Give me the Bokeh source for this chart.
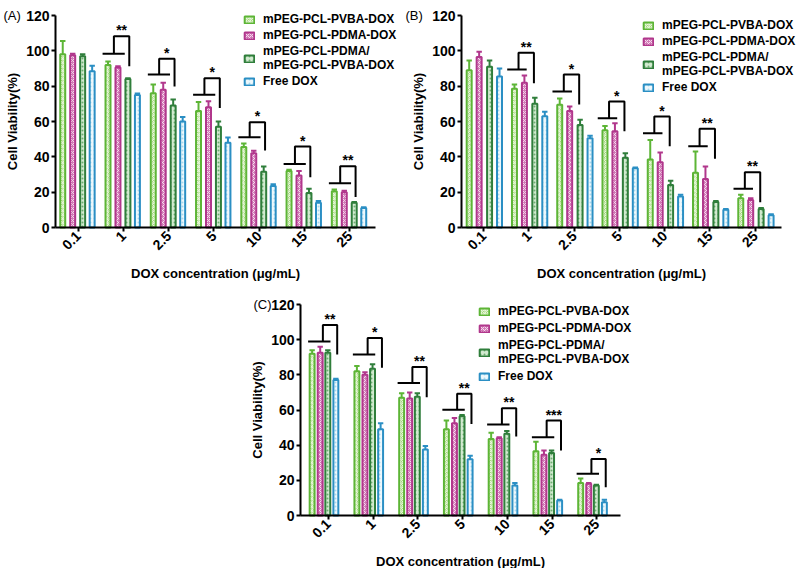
import math
from bokeh.plotting import figure
from bokeh.models import Range1d, FixedTicker, Legend, LegendItem, Label, Spacer
from bokeh.layouts import column, row
from bokeh.embed import file_html
from bokeh.resources import INLINE

categories = ["0.1", "1", "2.5", "5", "10", "15", "25"]
series_names = ["mPEG-PCL-PVBA-DOX", "mPEG-PCL-PDMA-DOX",
                "mPEG-PCL-PDMA/\nmPEG-PCL-PVBA-DOX", "Free DOX"]
y_ticks = [0, 20, 40, 60, 80, 100, 120]
x_title = "DOX concentration (μg/mL)"
y_title = "Cell Viability(%)"

# Panel A
a_pvba = [98, 92, 76, 66, 45.5, 32, 20.5]
a_pvba_err = [7.5, 2, 5, 5, 2, 0.7, 1]
a_pdma = [97.5, 90.5, 78, 68, 42, 29.5, 20]
a_pdma_err = [0.8, 0.8, 4, 3.5, 1.5, 2.5, 0.8]
a_mix = [97, 84, 69, 57, 31.5, 19.5, 14]
a_mix_err = [1, 0.5, 3.5, 3, 3, 2.5, 0.5]
a_free = [88.5, 75, 60, 48, 23.5, 14, 11]
a_free_err = [3, 0.8, 2.5, 3, 1, 1, 0.5]
a_br_cats = ["1", "2.5", "5", "10", "15", "25"]
a_br_base = [98.3, 86.6, 75.1, 51.1, 36, 25.1]
a_br_top = [108.3, 95.5, 84.5, 59.6, 45.8, 34.7]
a_br_end = [91.3, 79.8, 67.7, 43.6, 28.5, 17.2]
a_br_stars = ["**", "*", "*", "*", "*", "**"]

# Panel B
b_pvba = [89, 78.5, 69.5, 55, 38.5, 31, 16.5]
b_pvba_err = [5.5, 2.5, 3.5, 2.5, 11, 12, 2]
b_pdma = [96.5, 82, 66, 54.5, 37, 27.5, 15.5]
b_pdma_err = [3, 4, 2.5, 4.5, 5.5, 7, 1]
b_mix = [91, 70, 58, 39.5, 24, 14.5, 10.5]
b_mix_err = [3.5, 3.5, 3, 2.5, 2.5, 0.5, 0.5]
b_free = [85.5, 63, 50.5, 33.5, 17.5, 10, 7]
b_free_err = [4.5, 2.5, 1.5, 0.5, 1, 0.5, 0.5]
b_br_cats = ["1", "2.5", "5", "10", "15", "25"]
b_br_base = [89.4, 77, 61.9, 53.4, 46, 21.9]
b_br_top = [98.9, 86.6, 71.3, 62.8, 55.9, 31.3]
b_br_end = [81.7, 69.6, 54.5, 46, 38.9, 14.3]
b_br_stars = ["**", "*", "*", "*", "**", "**"]

# Panel C
c_pvba = [92, 82, 67, 49, 43.5, 36.5, 18.5]
c_pvba_err = [2, 3, 2.5, 5, 3.5, 5.5, 2.5]
c_pdma = [92.5, 80, 66.5, 52.5, 44, 34.5, 18]
c_pdma_err = [3.5, 1.5, 3.5, 3, 0.5, 2.5, 0.5]
c_mix = [92.5, 83.5, 67.5, 56.5, 46.5, 35.5, 17]
c_mix_err = [1.5, 2.5, 2, 0.7, 1.5, 1.5, 0.5]
c_free = [77, 49, 37.5, 32, 17, 8.5, 7.5]
c_free_err = [0.8, 3.5, 2, 2, 1.5, 0.5, 1.5]
c_br_cats = ["0.1", "1", "2.5", "5", "10", "15", "25"]
c_br_base = [99, 91.6, 75.3, 60.1, 51.8, 44.5, 23.7]
c_br_top = [108.4, 100.9, 84.4, 69.2, 61, 54, 32.2]
c_br_end = [91.6, 84, 67.3, 52.1, 44.9, 37, 16.1]
c_br_stars = ["**", "*", "**", "**", "**", "***", "*"]

FONT = "Liberation Sans"
styles = [
    dict(fill_color="#a6d77f", line_color="#5db536", hatch_pattern="criss_cross",
         hatch_color="#e8f6dc", hatch_scale=4, hatch_weight=1),
    dict(fill_color="#d27bb7", line_color="#b1378c", hatch_pattern="diagonal_cross",
         hatch_color="#f6dcee", hatch_scale=4, hatch_weight=1),
    dict(fill_color="#d2ead0", line_color="#2f7e3b", hatch_pattern="dot",
         hatch_color="#6fae72", hatch_scale=4, hatch_weight=1),
    dict(fill_color="#eef8fc", line_color="#2b8fc4", hatch_pattern="dot",
         hatch_color="#a9d9ef", hatch_scale=4, hatch_weight=1),
]


def make_panel(letter, series, errs, br_cats, br_base, br_top, br_end, br_stars,
               xbounds, width, height, ax_left, ax_right, y120_px, y0_px,
               leg_xy, bgeom, offsets, letter_dx, leg_spacing):
    # the frame covers the whole canvas; axes are pinned to data locations
    x0, x1 = xbounds
    ppc = (ax_right - ax_left) / (x1 - x0)
    xr = (x0 - ax_left / ppc, x1 + (width - ax_right) / ppc)
    ppv = (y0_px - y120_px) / 120.0
    yr = (-(height - y0_px) / ppv, y0_px / ppv)

    p = figure(width=width, height=height, output_backend="svg", toolbar_location=None,
               x_range=Range1d(*xr), y_range=Range1d(*yr),
               min_border_left=0, min_border_right=0, min_border_top=0,
               min_border_bottom=0)
    p.outline_line_color = None
    p.grid.visible = False
    p.background_fill_color = "white"
    p.border_fill_color = "white"

    items = []
    for k in range(4):
        xs = [i + offsets[k] for i in range(len(categories))]
        r = p.vbar(x=xs, top=series[k], width=0.11, bottom=0, line_width=2, **styles[k])
        tops = [v + e for v, e in zip(series[k], errs[k])]
        col = styles[k]["line_color"]
        p.segment(x0=xs, y0=series[k], x1=xs, y1=tops, line_color=col, line_width=2)
        p.segment(x0=[x - 0.06 for x in xs], y0=tops, x1=[x + 0.06 for x in xs], y1=tops,
                  line_color=col, line_width=2)
        items.append(LegendItem(label=series_names[k], renderers=[r]))

    hl0, hl1, lv, rv = bgeom
    idx = [categories.index(c) for c in br_cats]
    p.segment(x0=[i + hl0 for i in idx], y0=br_base, x1=[i + hl1 for i in idx], y1=br_base,
              line_color="black", line_width=2)
    p.multi_line(xs=[[i + lv, i + lv, i + rv, i + rv] for i in idx],
                 ys=[[b, t, t, e] for b, t, e in zip(br_base, br_top, br_end)],
                 line_color="black", line_width=2)
    p.text(x=[i + (lv + rv) / 2 for i in idx], y=br_top, text=br_stars,
           text_align="center", text_baseline="bottom", y_offset=2,
           text_font_size="14px", text_font_style="bold", text_color="black",
           text_font={"value": FONT})

    yax = p.yaxis[0]
    yax.ticker = FixedTicker(ticks=y_ticks)
    yax.bounds = (0, 120)
    yax.fixed_location = x0
    yax.axis_label = y_title
    xax = p.xaxis[0]
    xax.ticker = FixedTicker(ticks=list(range(len(categories))))
    xax.bounds = (x0, x1)
    xax.fixed_location = 0
    xax.major_label_overrides = {i: c for i, c in enumerate(categories)}
    xax.major_label_orientation = math.pi / 4
    for ax in (xax, yax):
        ax.axis_line_width = 2
        ax.major_tick_line_width = 2
        ax.major_tick_out = 4
        ax.major_tick_in = 0
        ax.minor_tick_line_color = None
        ax.major_label_text_font = FONT
        ax.major_label_text_font_style = "bold"
        ax.major_label_text_font_size = "14px"
        ax.major_label_text_color = "black"
        ax.major_label_standoff = 2
        ax.axis_label_text_font = FONT
        ax.axis_label_text_font_style = "bold"
        ax.axis_label_text_font_size = "13px"
        ax.axis_label_text_color = "black"
    yax.axis_label_standoff = 3

    # x-axis title centred under the drawn axis
    p.add_layout(Label(x=(x0 + x1) / 2, y=0, y_offset=-46, text=x_title,
                       text_align="center", text_baseline="middle", text_font=FONT,
                       text_font_style="bold", text_font_size="13px", text_color="black"))

    leg = Legend(items=items, location=(leg_xy[0], leg_xy[1] + (height - y0_px)),
                 margin=0, padding=0,
                 spacing=leg_spacing, glyph_width=12, glyph_height=9, label_height=13,
                 label_standoff=8, label_text_font=FONT, label_text_font_style="bold",
                 label_text_font_size="12px", label_text_color="black",
                 background_fill_alpha=0, border_line_color=None)
    p.add_layout(leg)
    p.add_layout(Label(x=x0, y=120, x_offset=letter_dx, text=letter,
                       text_font=FONT, text_font_size="13px", text_baseline="middle",
                       text_color="black"))
    return p


pA = make_panel("(A)", [a_pvba, a_pdma, a_mix, a_free],
                [a_pvba_err, a_pdma_err, a_mix_err, a_free_err],
                a_br_cats, a_br_base, a_br_top, a_br_end, a_br_stars,
                (-0.5, 6.57), 400, 284, 55, 375, 15, 227, (243, 139),
                (-0.46, 0.03, -0.21, 0.13), [-0.34, -0.12, 0.1, 0.31], -52, 2)
pB = make_panel("(B)", [b_pvba, b_pdma, b_mix, b_free],
                [b_pvba_err, b_pdma_err, b_mix_err, b_free_err],
                b_br_cats, b_br_base, b_br_top, b_br_end, b_br_stars,
                (-0.49, 6.58), 399, 284, 61, 381, 15, 227, (242, 133),
                (-0.48, -0.05, -0.23, 0.11), [-0.32, -0.1, 0.13, 0.35], -56, 2)
pC = make_panel("(C)", [c_pvba, c_pdma, c_mix, c_free],
                [c_pvba_err, c_pdma_err, c_mix_err, c_free_err],
                c_br_cats, c_br_base, c_br_top, c_br_end, c_br_stars,
                (-0.62, 6.53), 400, 284, 55, 375, 20, 231, (233, 132),
                (-0.45, 0.05, -0.12, 0.2), [-0.36, -0.18, -0.01, 0.17], -47, 3)

layout = column(row(pA, pB), row(Spacer(width=245, height=284), pC))
open("out.html", "w").write(file_html(layout, INLINE))
